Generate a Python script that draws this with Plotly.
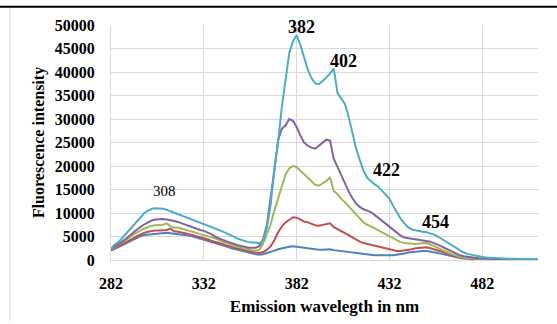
import plotly.graph_objects as go

wavelength = list(range(282, 513, 2))

x_ticks = [282, 332, 382, 432, 482]
y_ticks = [0, 5000, 10000, 15000, 20000, 25000, 30000, 35000, 40000, 45000, 50000]

series_1 = [2000, 2400, 2800, 3200, 3600, 4000, 4400, 4800, 5100, 5300,
            5400, 5500, 5600, 5700, 5700, 5800, 5700, 5600, 5600, 5500,
            5400, 5200, 5000, 4800, 4600, 4300, 4100, 3800, 3600, 3300,
            3100, 2900, 2600, 2400, 2100, 1900, 1700, 1500, 1300, 1200,
            1100, 1200, 1500, 1700, 2000, 2300, 2500, 2700, 2800, 2900,
            2800, 2700, 2500, 2400, 2300, 2300, 2200, 2200, 2200, 2300,
            2100, 2000, 1800, 1700, 1600, 1500, 1400, 1300, 1200, 1100,
            1000, 1000, 1000, 950, 950, 1000, 1000, 1100, 1200, 1400,
            1600, 1700, 1800, 1900, 1900, 1900, 1800, 1700, 1500, 1300,
            1100, 900, 700, 550, 420, 330, 260, 200, 160, 130,
            110, 100, 90, 80, 75, 70, 65, 60, 55, 50,
            50, 45, 45, 40, 40, 40]

series_2 = [2100, 2500, 2900, 3300, 3700, 4100, 4600, 5100, 5500, 5800,
            6000, 6200, 6300, 6300, 6400, 6400, 6700, 6100, 6000, 5900,
            5700, 5500, 5300, 5000, 4800, 4600, 4400, 4100, 3900, 3600,
            3400, 3100, 2900, 2600, 2400, 2200, 2000, 1900, 1700, 1600,
            1500, 1700, 2200, 2900, 4200, 5900, 7100, 8000, 8600, 9100,
            9000, 8600, 8200, 8000, 7700, 7400, 7300, 7500, 7600, 7800,
            7000, 6600, 6200, 5700, 5300, 4800, 4300, 3900, 3600, 3400,
            3200, 3000, 2800, 2600, 2400, 2200, 2100, 1900, 1900, 2000,
            2200, 2300, 2500, 2600, 2600, 2700, 2500, 2300, 2100, 1800,
            1500, 1200, 900, 700, 550, 430, 350, 280, 230, 190,
            160, 140, 120, 110, 100, 90, 85, 80, 75, 70,
            65, 60, 60, 55, 55, 50]

series_3 = [2200, 2700, 3200, 3700, 4300, 4800, 5400, 5900, 6300, 6700,
            7000, 7300, 7400, 7500, 7500, 7800, 7200, 6900, 6900, 6700,
            6400, 6200, 6000, 5700, 5500, 5300, 5100, 4800, 4600, 4300,
            3900, 3600, 3300, 3000, 2800, 2600, 2400, 2200, 2100, 2000,
            2200, 3500, 5500, 7600, 10500, 13200, 15700, 18200, 19500, 20000,
            19800, 19000, 18400, 17500, 16600, 16000, 15800, 16300, 16800, 17600,
            14700, 14000, 13000, 12300, 11400, 10500, 9600, 8700, 8000, 7500,
            7200, 6800, 6300, 5900, 5500, 5100, 4600, 4200, 3800, 3600,
            3500, 3400, 3400, 3500, 3600, 3600, 3300, 3000, 2600, 2200,
            1800, 1500, 1200, 900, 700, 550, 450, 370, 300, 250,
            210, 180, 160, 140, 120, 110, 100, 90, 85, 80,
            75, 70, 70, 65, 65, 60]

series_4 = [2300, 2800, 3300, 3900, 4500, 5100, 5800, 6500, 7100, 7600,
            8000, 8400, 8600, 8700, 8700, 8600, 8500, 8300, 8100, 7800,
            7500, 7300, 7000, 6700, 6400, 6200, 5900, 5500, 5000, 4600,
            4300, 4000, 3700, 3400, 3200, 3000, 2800, 2600, 2600, 2600,
            3000, 4500, 7500, 13000, 19000, 25500, 27900, 28600, 30000, 29600,
            28300, 26500, 25000, 24300, 23900, 23700, 24300, 25000, 25600, 25400,
            21500, 19800, 18000, 16200, 14600, 13200, 12000, 11300, 10800, 10500,
            10200, 9600, 9000, 8300, 7800, 7100, 6400, 5800, 5200, 4800,
            4600, 4500, 4400, 4300, 4200, 4100, 3900, 3600, 3300, 2900,
            2500, 2100, 1700, 1300, 1000, 800, 650, 520, 420, 350,
            300, 260, 220, 190, 170, 150, 130, 120, 110, 100,
            95, 90, 85, 80, 80, 75]

series_5 = [2400, 3300, 3800, 4700, 5600, 6500, 7500, 8400, 9300, 10000,
            10500, 10900, 11000, 11000, 10900, 10700, 10400, 10100, 9800, 9500,
            9200, 8900, 8600, 8300, 7900, 7700, 7400, 7100, 6800, 6500,
            6100, 5700, 5300, 4900, 4600, 4300, 4000, 3800, 3700, 3700,
            3500, 4200, 7000, 11800, 19500, 25000, 32500, 38400, 44000, 46500,
            47800, 45800, 43300, 40500, 38700, 37600, 37400, 38000, 38800, 39700,
            40700, 35500, 34200, 33200, 30500, 27200, 23800, 21300, 19000, 17500,
            16700, 16100, 15600, 14800, 14000, 13000, 11500, 10000, 8800, 7800,
            7000, 6500, 6300, 6100, 6000, 5900, 5700, 5400, 5000, 4500,
            4000, 3500, 3000, 2500, 2000, 1600, 1300, 1100, 900, 750,
            650, 550, 480, 420, 380, 340, 300, 270, 240, 220,
            200, 180, 160, 150, 140, 130]

colors = ["#4F81BD", "#C0504D", "#9BBB59", "#8064A2", "#4BACC6"]

peak_labels = ["308", "382", "402", "422", "454"]
peak_x = [311, 384.8, 407.4, 430.6, 456.7]
peak_y = [14750, 49550, 42440, 19160, 8180]

fig = go.Figure()
for s, c in zip([series_1, series_2, series_3, series_4, series_5], colors):
    fig.add_trace(go.Scatter(x=wavelength, y=s, mode="lines",
                             line=dict(color=c, width=2), showlegend=False,
                             hoverinfo="skip"))

serif = "Times New Roman, Liberation Serif, serif"
for i, (t, xv, yv) in enumerate(zip(peak_labels, peak_x, peak_y)):
    fig.add_annotation(x=xv, y=yv, text=t if i == 0 else "<b>" + t + "</b>",
                       showarrow=False, xref="x", yref="y",
                       font=dict(family=serif, size=15 if i == 0 else 18,
                                 color="black"))

fig.update_layout(
    width=557, height=324,
    margin=dict(l=111, r=19, t=25, b=61),
    paper_bgcolor="white", plot_bgcolor="white",
    font=dict(family=serif, color="black"),
    xaxis=dict(range=[282, 512], tickmode="array", tickvals=x_ticks,
               ticktext=["<b>%d</b>" % v for v in x_ticks],
               showgrid=True, gridcolor="#D9D9D9", gridwidth=1,
               showline=True, linecolor="#D9D9D9", linewidth=1,
               zeroline=False, ticks="", ticklabelstandoff=9,
               tickfont=dict(family=serif, size=16, color="black"),
               title=dict(text="<b>Emission wavelegth in nm</b>", standoff=8,
                          font=dict(family=serif, size=17, color="black"))),
    yaxis=dict(range=[0, 50000], tickmode="array", tickvals=y_ticks,
               ticktext=["<b>%d</b>" % v for v in y_ticks],
               showgrid=True, gridcolor="#D9D9D9", gridwidth=1,
               showline=True, linecolor="#D9D9D9", linewidth=1,
               zeroline=False, ticks="", ticklabelstandoff=12,
               tickfont=dict(family=serif, size=16, color="black"),
               title=dict(text="<b>Fluorescence intensity</b>", standoff=6,
                          font=dict(family=serif, size=16, color="black"))),
    shapes=[
        dict(type="line", xref="paper", yref="paper", x0=-0.27, x1=1.05,
             y0=1.0777, y1=1.0777, line=dict(color="black", width=2)),
        dict(type="line", xref="paper", yref="paper", x0=-0.2365, x1=-0.2365,
             y0=1.0714, y1=-0.26, line=dict(color="#D9D9D9", width=1)),
    ],
)

fig.write_html("out.html")
